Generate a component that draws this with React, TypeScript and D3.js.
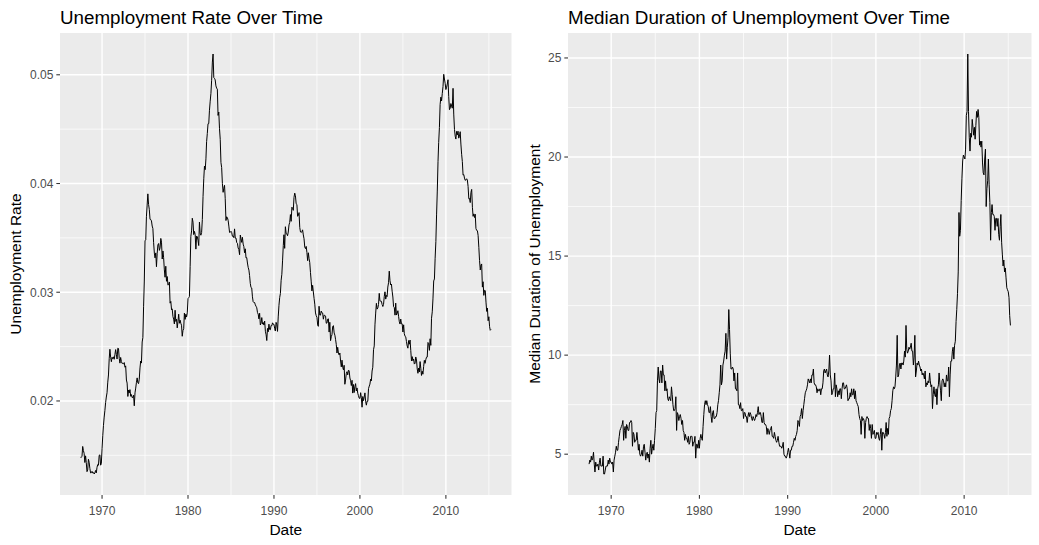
import React from "react";
import * as d3 from "d3";

// Monthly series, starting July 1967 and ending April 2015
const firstMonth = { year: 1967, month: 6 };

// Number of unemployed (thousands)
const unemploy = [
  2944, 2945, 2958, 3143, 3066, 3018,
  2878, 3001, 2877, 2709, 2740, 2938, 2883, 2768, 2686, 2689, 2715, 2685,
  2718, 2692, 2712, 2758, 2713, 2816, 2868, 2856, 3040, 3049, 2856, 2884,
  3201, 3453, 3635, 3797, 3919, 4071, 4175, 4256, 4456, 4591, 4898, 5076,
  4986, 4903, 4987, 4959, 4996, 4949, 5035, 5134, 5042, 4954, 5161, 5154,
  5019, 4928, 5038, 4959, 4922, 4923, 4913, 4939, 4849, 4875, 4602, 4543,
  4326, 4452, 4394, 4459, 4329, 4363, 4305, 4305, 4350, 4144, 4396, 4489,
  4644, 4731, 4634, 4618, 4705, 4927, 5063, 5022, 5437, 5523, 6140, 6636,
  7501, 7520, 7978, 8210, 8433, 8220, 8127, 7928, 7923, 7897, 7794, 7744,
  7534, 7326, 7230, 7330, 7053, 7322, 7490, 7518, 7380, 7430, 7620, 7545,
  7280, 7443, 7307, 7059, 6911, 7134, 6829, 6925, 6751, 6763, 6815, 6386,
  6489, 6318, 6337, 6180, 6127, 6028, 6309, 6080, 6125, 5947, 6077, 6228,
  6109, 6173, 6109, 6069, 5840, 5959, 5996, 6320, 6190, 6296, 6238, 6325,
  6683, 6702, 6729, 7358, 7984, 8098, 8363, 8281, 8021, 8088, 8023, 7718,
  8071, 8051, 7982, 7869, 8366, 8131, 8087, 8143, 8420, 8903, 9278, 9545,
  9562, 9792, 10158, 10334, 10540, 10544, 10828, 11021, 11188, 11467, 11854, 12026,
  11627, 11612, 11580, 11451, 11402, 11381, 10816, 10888, 10530, 10301, 9804, 9697,
  9435, 9242, 9331, 9394, 9103, 8630, 8712, 8690, 8635, 8509, 8372, 8374,
  8471, 8442, 8364, 8368, 8333, 8524, 8322, 8323, 8226, 8208, 8106, 8074,
  8033, 8467, 8391, 8305, 8418, 8267, 8212, 8076, 8163, 7962, 7968, 7849,
  7822, 7762, 7642, 7466, 7373, 7363, 7166, 7056, 7038, 7040, 6987, 6956,
  6985, 6877, 6844, 6736, 6863, 6599, 6638, 6765, 6618, 6654, 6597, 6688,
  6519, 6437, 6308, 6583, 6507, 6680, 6558, 6553, 6650, 6644, 6710, 6676,
  6752, 6651, 6598, 6797, 6742, 6590, 6922, 7188, 7368, 7459, 7764, 7901,
  8319, 8675, 8927, 8610, 9114, 8963, 8948, 8904, 8990, 9155, 9213, 9396,
  9368, 9702, 9677, 9627, 9932, 10034, 9971, 9782, 9766, 9488, 9504, 9574,
  9344, 9237, 9226, 9240, 9289, 9168, 9077, 8879, 8840, 8893, 8749, 8552,
  8849, 8705, 8614, 8371, 8163, 7926, 8061, 7900, 7744, 7605, 7392, 7327,
  7375, 7187, 7153, 7645, 7430, 7427, 7527, 7484, 7478, 7328, 7426, 7423,
  7491, 7313, 7318, 7415, 7423, 7095, 7337, 6882, 6979, 7031, 7236, 7253,
  7158, 7102, 7000, 6873, 6655, 6799, 6655, 6608, 6656, 6454, 6308, 6476,
  6368, 6306, 6422, 5941, 6047, 6212, 6259, 6179, 6300, 6280, 6100, 6032,
  5976, 6111, 5783, 6004, 5796, 5951, 6025, 5838, 5915, 5778, 5716, 5653,
  5708, 5858, 5733, 5481, 5758, 5651, 5747, 5853, 5625, 5534, 5639, 5634,
  6023, 6089, 6141, 6271, 6226, 6484, 6583, 7042, 7142, 7694, 8003, 8258,
  8182, 8215, 8304, 8599, 8399, 8393, 8390, 8304, 8251, 8307, 8520, 8640,
  8520, 8618, 8588, 8842, 8957, 9266, 9011, 8896, 8921, 8732, 8576, 8317,
  8370, 8167, 8491, 8170, 8212, 8286, 8136, 7990, 7927, 8061, 7932, 7934,
  7784, 7980, 7737, 7672, 7651, 7524, 7406, 7345, 7553, 7453, 7566, 7279,
  7064, 7184, 7072, 7120, 6980, 7001, 7175, 7091, 6847, 6727, 6872, 6762,
  7116, 6927, 6731, 6850, 6766, 6979, 7149, 7067, 7170, 7237, 7240, 7645,
  7685, 7497, 7822, 7637, 8395, 8575, 8937, 9438, 9494, 10074, 10538, 11286,
  12058, 12898, 13426, 13853, 14499, 14707, 14601, 14814, 15009, 15352, 15219, 15098,
  15046, 15113, 15202, 15325, 14849, 14474, 14512, 14648, 14579, 14516, 15081, 14348,
  14013, 13820, 13737, 13957, 13855, 13962, 13763, 13818, 13948, 13594, 13302, 13093,
  12797, 12813, 12713, 12646, 12660, 12692, 12656, 12471, 12115, 12124, 12005, 12298,
  12471, 11950, 11689, 11760, 11654, 11751, 11335, 11279, 11270, 11136, 10787, 10404,
  10202, 10349, 10380, 9702, 9859, 9460, 9608, 9599, 9262, 8990, 9090, 8717,
  8903, 8610, 8504, 8526,
];

// Population (thousands), one value per year 1967..2015
const popYears = d3.range(1967, 2016);
const pop = [
  198712, 200706, 202677, 205052, 207661, 209896, 211909, 213854, 215973, 218035,
  220239, 222585, 225055, 227225, 229466, 231664, 233792, 235825, 237924, 240133,
  242289, 244499, 246819, 249623, 252981, 256514, 259919, 263126, 266278, 269394,
  272647, 275854, 279040, 282162, 284969, 287625, 290108, 292805, 295517, 298380,
  301231, 304094, 306772, 309326, 311583, 313877, 316060, 318386, 320887,
];

// Median duration of unemployment (weeks)
const uempmed = [
  4.5, 4.7, 4.6, 4.9, 4.7, 4.8,
  5.1, 4.5, 4.1, 4.6, 4.4, 4.4, 4.5, 4.2, 4.6, 4.8, 4.4, 4.4,
  4.4, 4.9, 4.0, 4.0, 4.2, 4.4, 4.4, 4.4, 4.7, 4.5, 4.8, 4.6,
  4.6, 4.5, 4.6, 4.1, 4.7, 4.9, 5.1, 5.4, 5.2, 5.2, 5.6, 5.9,
  6.2, 6.3, 6.4, 6.5, 6.7, 5.7, 6.2, 6.4, 5.8, 6.5, 6.4, 6.2,
  6.2, 6.6, 6.6, 6.7, 6.6, 5.4, 6.1, 6.0, 5.6, 5.7, 5.7, 6.1,
  5.7, 5.2, 5.5, 5.0, 4.9, 5.0, 5.2, 4.9, 5.4, 5.5, 5.1, 4.7,
  5.0, 5.1, 4.8, 5.0, 4.6, 5.3, 5.7, 5.0, 5.3, 5.5, 5.2, 5.7,
  6.3, 7.1, 7.2, 8.7, 9.4, 8.8, 8.6, 9.2, 9.2, 8.6, 9.5, 9.0,
  9.0, 8.2, 8.7, 8.2, 8.3, 7.8, 7.7, 7.9, 7.8, 7.7, 8.4, 8.0,
  7.5, 7.2, 7.2, 7.3, 7.9, 6.2, 7.1, 7.0, 6.7, 6.9, 7.0, 6.8,
  6.5, 6.7, 6.2, 6.1, 5.7, 6.0, 5.8, 5.8, 5.6, 5.9, 5.5, 5.6,
  5.9, 5.9, 5.9, 5.4, 5.6, 5.6, 5.9, 4.8, 5.5, 5.5, 5.3, 5.7,
  5.3, 5.8, 6.0, 5.8, 5.7, 6.4, 7.0, 7.5, 7.7, 7.5, 7.7, 7.5,
  7.4, 7.1, 7.1, 7.4, 6.9, 6.6, 7.1, 7.2, 6.8, 6.8, 6.9, 6.9,
  7.1, 7.5, 7.7, 8.1, 8.5, 9.5, 8.5, 8.7, 9.5, 9.7, 10.0, 10.2,
  11.1, 9.8, 10.4, 10.9, 12.3, 11.3, 10.1, 9.3, 9.3, 9.4, 9.3, 8.7,
  9.1, 8.3, 8.3, 8.2, 9.1, 7.5, 7.5, 7.3, 7.6, 7.2, 7.2, 7.3,
  6.8, 7.1, 7.1, 6.9, 6.9, 6.6, 6.9, 7.1, 6.9, 7.1, 7.0, 6.8,
  6.7, 6.9, 6.8, 6.7, 6.8, 7.0, 6.9, 7.1, 7.4, 7.0, 7.1, 7.1,
  6.9, 6.6, 6.6, 7.1, 6.6, 6.5, 6.5, 6.4, 6.0, 6.3, 6.2, 6.0,
  6.2, 6.3, 6.4, 5.9, 5.9, 5.8, 6.1, 5.9, 5.7, 5.6, 5.7, 5.9,
  5.6, 5.4, 5.4, 5.4, 5.3, 5.4, 5.6, 5.0, 4.9, 4.9, 4.8, 4.9,
  5.1, 5.3, 5.1, 4.8, 5.2, 5.2, 5.4, 5.4, 5.6, 5.8, 5.7, 5.9,
  6.0, 6.2, 6.7, 6.6, 6.4, 6.9, 7.0, 7.3, 6.8, 7.2, 7.5, 7.8,
  8.1, 8.2, 8.3, 8.5, 8.8, 8.7, 8.6, 8.8, 8.6, 9.0, 9.0, 9.3,
  8.6, 8.5, 8.5, 8.4, 8.1, 8.3, 8.2, 8.2, 8.3, 8.0, 8.3, 8.3,
  8.6, 9.2, 9.3, 9.1, 9.2, 9.3, 9.0, 8.9, 9.2, 10.0, 9.0, 8.7,
  8.0, 8.1, 8.3, 8.3, 9.1, 7.9, 8.5, 8.3, 7.9, 8.2, 8.0, 8.3,
  8.3, 7.8, 8.3, 8.6, 8.6, 8.3, 8.3, 8.4, 8.5, 8.3, 7.7, 7.8,
  7.8, 8.1, 7.9, 8.3, 8.0, 8.0, 8.3, 7.8, 8.2, 7.7, 7.6, 7.5,
  7.4, 7.0, 6.8, 6.7, 6.0, 6.9, 6.7, 6.8, 6.7, 5.8, 6.6, 6.8,
  6.9, 6.8, 6.8, 6.2, 6.5, 6.3, 5.8, 6.5, 6.0, 6.1, 6.2, 5.8,
  5.8, 6.1, 6.0, 6.1, 5.8, 5.7, 6.0, 6.3, 5.2, 6.1, 6.1, 6.0,
  5.8, 6.1, 6.6, 5.9, 6.3, 6.0, 6.8, 6.9, 7.2, 7.3, 7.7, 8.2,
  8.4, 8.3, 8.4, 8.9, 9.5, 11.0, 8.9, 9.0, 9.5, 9.6, 9.3, 9.6,
  9.6, 9.5, 9.7, 10.2, 9.9, 11.5, 10.3, 10.1, 10.2, 10.4, 10.3, 10.4,
  10.6, 10.2, 10.2, 9.5, 9.9, 11.0, 8.9, 9.2, 9.6, 9.5, 9.7, 9.5,
  9.4, 9.2, 9.3, 9.0, 9.1, 9.0, 8.8, 9.2, 8.4, 8.6, 8.5, 8.7,
  8.6, 9.1, 8.7, 8.4, 8.5, 7.3, 8.0, 8.4, 8.0, 7.9, 8.3, 7.5,
  8.3, 8.5, 9.1, 8.6, 8.2, 7.7, 8.7, 8.8, 8.7, 8.4, 8.6, 8.4,
  9.0, 8.7, 8.7, 9.4, 7.9, 9.0, 9.7, 9.7, 10.2, 10.4, 9.8, 10.5,
  10.7, 11.7, 12.3, 13.1, 14.2, 17.2, 16.0, 16.3, 17.8, 18.9, 19.8, 20.1,
  20.0, 19.9, 20.4, 22.1, 22.3, 25.2, 22.3, 21.0, 20.3, 21.2, 21.0, 21.9,
  21.5, 21.1, 21.5, 20.9, 21.6, 22.3, 22.0, 22.4, 22.0, 20.6, 20.8, 20.5,
  20.8, 19.7, 19.2, 19.1, 19.9, 20.4, 17.5, 18.4, 18.8, 19.9, 18.6, 17.7,
  15.8, 17.2, 17.6, 17.1, 17.1, 17.0, 16.3, 16.9, 16.9, 16.5, 16.9, 16.1,
  15.8, 16.5, 17.1, 15.7, 15.1, 14.5, 14.8, 14.2, 14.4, 13.9, 13.4, 13.3,
  13.2, 12.9, 12.0, 11.5,
];

// Axis ticks
const xTickYears = [1970, 1980, 1990, 2000, 2010];
const rateTicks = [0.02, 0.03, 0.04, 0.05];
const durationTicks = [5, 10, 15, 20, 25];

const W = 1039;
const H = 545;
const FONT = "'Liberation Sans', Arial, Helvetica, sans-serif";

type Pt = { date: Date; value: number };

const dates = unemploy.map((_, i) => new Date(firstMonth.year, firstMonth.month + i, 1));
const rateData: Pt[] = dates.map((d, i) => ({
  date: d,
  value: unemploy[i] / pop[popYears.indexOf(d.getFullYear())],
}));
const durationData: Pt[] = dates.map((d, i) => ({ date: d, value: uempmed[i] }));

function expand(lo: number, hi: number): [number, number] {
  const pad = (hi - lo) * 0.05;
  return [lo - pad, hi + pad];
}

function Panel(props: {
  data: Pt[];
  x0: number;
  x1: number;
  y0: number;
  y1: number;
  yTicks: number[];
  yFormat: (v: number) => string;
  title: string;
  yTitle: string;
  yTitleX: number;
}) {
  const { data, x0, x1, y0, y1, yTicks, yFormat, title, yTitle, yTitleX } = props;
  const [t0, t1] = d3.extent(data, (d) => +d.date) as [number, number];
  const [e0, e1] = expand(t0, t1);
  const x = d3.scaleTime().domain([new Date(e0), new Date(e1)]).range([x0, x1]);
  const [v0, v1] = d3.extent(data, (d) => d.value) as [number, number];
  const y = d3.scaleLinear().domain(expand(v0, v1)).range([y1, y0]);

  const xMajor = xTickYears.map((yr) => new Date(yr, 0, 1));
  const xMinorYears: number[] = [];
  const step = xTickYears[1] - xTickYears[0];
  [xTickYears[0] - step, ...xTickYears].forEach((yr) => xMinorYears.push(yr + step / 2));
  const xMinor = xMinorYears
    .map((yr) => new Date(yr, 0, 1))
    .filter((d) => +d >= e0 && +d <= e1);

  const ys = y.domain();
  const yStep = yTicks[1] - yTicks[0];
  const yMinor = [yTicks[0] - yStep, ...yTicks]
    .map((v) => v + yStep / 2)
    .filter((v) => v >= ys[0] && v <= ys[1]);

  const line = d3
    .line<Pt>()
    .x((d) => x(d.date))
    .y((d) => y(d.value));

  const tickLen = 3.67;
  const cx = (x0 + x1) / 2;
  const cy = (y0 + y1) / 2;

  return (
    <g>
      <text x={x0} y={23.5} fontSize={18.8} fill="#000" fontFamily={FONT}>
        {title}
      </text>
      <rect x={x0} y={y0} width={x1 - x0} height={y1 - y0} fill="#EBEBEB" />
      {xMinor.map((d, i) => (
        <line key={"xm" + i} x1={x(d)} x2={x(d)} y1={y0} y2={y1} stroke="#fff" strokeWidth={0.7} />
      ))}
      {yMinor.map((v, i) => (
        <line key={"ym" + i} x1={x0} x2={x1} y1={y(v)} y2={y(v)} stroke="#fff" strokeWidth={0.7} />
      ))}
      {xMajor.map((d, i) => (
        <line key={"xM" + i} x1={x(d)} x2={x(d)} y1={y0} y2={y1} stroke="#fff" strokeWidth={1.4} />
      ))}
      {yTicks.map((v, i) => (
        <line key={"yM" + i} x1={x0} x2={x1} y1={y(v)} y2={y(v)} stroke="#fff" strokeWidth={1.4} />
      ))}
      <path d={line(data) || ""} fill="none" stroke="#000" strokeWidth={1} strokeLinejoin="round" />
      {xMajor.map((d, i) => (
        <g key={"xt" + i}>
          <line x1={x(d)} x2={x(d)} y1={y1} y2={y1 + tickLen} stroke="#333" strokeWidth={1.07} />
          <text
            x={x(d)}
            y={514.5}
            textAnchor="middle"
            fontSize={12}
            fill="#4D4D4D"
            fontFamily={FONT}
          >
            {xTickYears[i]}
          </text>
        </g>
      ))}
      {yTicks.map((v, i) => (
        <g key={"yt" + i}>
          <line x1={x0 - tickLen} x2={x0} y1={y(v)} y2={y(v)} stroke="#333" strokeWidth={1.07} />
          <text
            x={x0 - 6.6}
            y={y(v) + 4.3}
            textAnchor="end"
            fontSize={12}
            fill="#4D4D4D"
            fontFamily={FONT}
          >
            {yFormat(v)}
          </text>
        </g>
      ))}
      <text x={cx} y={535} textAnchor="middle" fontSize={15.5} fill="#000" fontFamily={FONT}>
        Date
      </text>
      <text
        transform={`translate(${yTitleX},${cy}) rotate(-90)`}
        textAnchor="middle"
        fontSize={15.5}
        fill="#000"
        fontFamily={FONT}
      >
        {yTitle}
      </text>
    </g>
  );
}

export default function App() {
  return (
    <svg
      width={W}
      height={H}
      viewBox={`0 0 ${W} ${H}`}
      style={{ position: "absolute", left: 0, top: 0, display: "block", background: "#fff" }}
    >
      <rect x={0} y={0} width={W} height={H} fill="#fff" />
      <Panel
        data={rateData}
        x0={60}
        x1={511.5}
        y0={33}
        y1={495}
        yTicks={rateTicks}
        yFormat={(v) => d3.format(".2f")(v)}
        title="Unemployment Rate Over Time"
        yTitle="Unemployment Rate"
        yTitleX={20.5}
      />
      <Panel
        data={durationData}
        x0={568}
        x1={1031.5}
        y0={33}
        y1={495}
        yTicks={durationTicks}
        yFormat={(v) => String(v)}
        title="Median Duration of Unemployment Over Time"
        yTitle="Median Duration of Unemployment"
        yTitleX={540}
      />
    </svg>
  );
}
